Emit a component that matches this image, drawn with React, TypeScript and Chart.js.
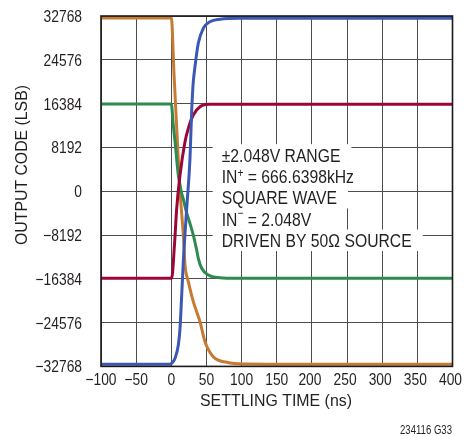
import { useEffect, useRef } from 'react';
import { Chart, registerables } from 'chart.js';

Chart.register(...registerables);

// ---------- data ----------
const xTicks = [-100, -50, 0, 50, 100, 150, 200, 250, 300, 350, 400];
const yTicks = [-32768, -24576, -16384, -8192, 0, 8192, 16384, 24576, 32768];

const blueT = [-100, -2, 3, 5.3, 10, 12.4, 14.8, 17.1, 18.5, 21.9, 26.6, 29, 31, 33.7, 38.4, 45.5, 55, 69.3, 97.7, 150, 400];
const blueV = [-32350, -32350, -31800, -31250, -28760, -25640, -19410, -13180, -10000, -3200, 6160, 15000, 20000, 23290, 27660, 30470, 31700, 32150, 32340, 32350, 32350];

const redT = [-100, 0.5, 4.5, 7.7, 12.4, 19.5, 24.2, 31.3, 40.8, 55, 80, 400];
const redV = [-16280, -16280, -10060, -3200, 3030, 9260, 11760, 14250, 15800, 16250, 16280, 16280];

const greenT = [-100, 0, 2.8, 5.3, 10, 14, 17.1, 21.9, 26, 31.3, 36.1, 38.4, 43.2, 52.6, 69.3, 93, 400];
const greenV = [16300, 16300, 12400, 9300, 3000, 0, -1500, -4100, -5800, -8200, -11000, -12550, -14420, -15670, -16170, -16280, -16300];

const orangeT = [-100, 0, 4, 8, 12.4, 17.1, 19.5, 24.2, 31.3, 40.8, 47.9, 59.7, 78.8, 107, 150, 400];
const orangeV = [32400, 32400, 21500, 11000, 0, -8190, -13800, -16920, -20660, -24400, -28150, -30950, -32000, -32320, -32350, -32350];

const annotationLines = ['±2.048V RANGE', 'IN|+| = 666.6398kHz', 'SQUARE WAVE', 'IN|−| = 2.048V', 'DRIVEN BY 50Ω SOURCE'];
const xTitle = 'SETTLING TIME (ns)';
const yTitle = 'OUTPUT CODE (LSB)';
const footnote = '234116 G33';

// ---------- helpers ----------
const FONT = '"Liberation Sans", Arial, Helvetica, sans-serif';
const TXT = '#231f20';

function toPts(t: number[], v: number[]) {
  return t.map((x, i) => ({ x, y: v[i] }));
}

function fmt(v: number) {
  return v < 0 ? '\u2212' + Math.abs(v) : String(v);
}

function measure(ctx: CanvasRenderingContext2D, text: string, size: number) {
  ctx.font = `${size}px ${FONT}`;
  return ctx.measureText(text).width;
}

// draws text horizontally condensed by sx; y = vertical centre of capitals
function drawText(
  ctx: CanvasRenderingContext2D,
  text: string,
  x: number,
  yc: number,
  size: number,
  sx: number,
  align: 'left' | 'center' | 'right'
) {
  const w = measure(ctx, text, size) * sx;
  const x0 = align === 'left' ? x : align === 'center' ? x - w / 2 : x - w;
  ctx.save();
  ctx.translate(x0, yc + 0.358 * size);
  ctx.scale(sx, 1);
  ctx.textAlign = 'left';
  ctx.textBaseline = 'alphabetic';
  ctx.fillStyle = TXT;
  ctx.fillText(text, 0, 0);
  ctx.restore();
  return w;
}

const framePlugin = {
  id: 'frameAndText',
  afterDatasetsDraw(chart: any) {
    const ctx: CanvasRenderingContext2D = chart.ctx;
    const a = chart.chartArea;
    // annotation box
    const size = 18.5;
    const sx = 190 / measure(ctx, 'DRIVEN BY 50Ω SOURCE', size);
    const left = 221.7;
    const centers = [155, 176.3, 197.6, 219, 240.3];
    // measure widths first
    const widths = annotationLines.map((ln) => {
      const parts = ln.split('|');
      let w = 0;
      parts.forEach((p, i) => {
        w += measure(ctx, p, i === 1 ? 12 : size) * sx;
      });
      return w;
    });
    ctx.save();
    ctx.fillStyle = '#ffffff';
    centers.forEach((c, i) => {
      ctx.fillRect(left - 9, c - 10.8, widths[i] + 20, 21.6);
    });
    ctx.restore();
    annotationLines.forEach((ln, i) => {
      const parts = ln.split('|');
      let x = left;
      parts.forEach((p, j) => {
        if (j === 1) {
          const capTop = centers[i] - 0.358 * size;
          const yc = p === '+' ? capTop + 3.2 : capTop + 0.5;
          x += drawText(ctx, p, x, yc, 12, sx, 'left');
        } else {
          x += drawText(ctx, p, x, centers[i], size, sx, 'left');
        }
      });
    });
    // frame
    ctx.save();
    ctx.strokeStyle = '#1a1a1a';
    ctx.lineWidth = 1.6;
    ctx.strokeRect(a.left, a.top, a.right - a.left, a.bottom - a.top);
    ctx.restore();
  },
  afterDraw(chart: any) {
    const ctx: CanvasRenderingContext2D = chart.ctx;
    const xs = chart.scales.x;
    const ys = chart.scales.y;
    const tsize = 16.5;
    const tsx = 38.4 / measure(ctx, '32768', tsize);
    ys.ticks.forEach((t: any) => {
      drawText(ctx, fmt(t.value), 82, ys.getPixelForValue(t.value), tsize, tsx, 'right');
    });
    xs.ticks.forEach((t: any) => {
      drawText(ctx, fmt(t.value), xs.getPixelForValue(t.value) - (t.value > 150 ? 2 : 0), 379, tsize, tsx, 'center');
    });
    // axis titles
    const titleSize = 17;
    const xsx = 152 / measure(ctx, xTitle, titleSize);
    drawText(ctx, xTitle, 276, 399.5, titleSize, xsx, 'center');
    ctx.save();
    ctx.translate(21, 165);
    ctx.rotate(-Math.PI / 2);
    const ysx = 160 / measure(ctx, yTitle, titleSize);
    drawText(ctx, yTitle, 0, 0, titleSize, ysx, 'center');
    ctx.restore();
    const fsx = 52 / measure(ctx, footnote, 12.5);
    drawText(ctx, footnote, 452, 429.5, 12.5, fsx, 'right');
  },
};

export default function App() {
  const ref = useRef<HTMLCanvasElement | null>(null);
  useEffect(() => {
    if (!ref.current) return;
    const ds = (label: string, t: number[], v: number[], color: string) => ({
      label,
      data: toPts(t, v),
      borderColor: color,
      backgroundColor: color,
      borderWidth: 3,
      pointRadius: 0,
      fill: false,
      cubicInterpolationMode: 'monotone' as const,
    });
    const gridOpts = { color: '#4d4d4d', lineWidth: 1, drawTicks: false };
    const chart = new Chart(ref.current, {
      type: 'line',
      data: {
        datasets: [
          ds('blue', blueT, blueV, '#3b58b5'),
          ds('red', redT, redV, '#9c0636'),
          ds('green', greenT, greenV, '#2f8a50'),
          ds('orange', orangeT, orangeV, '#c67a32'),
        ],
      },
      plugins: [framePlugin],
      options: {
        animation: false,
        responsive: false,
        maintainAspectRatio: false,
        devicePixelRatio: 1,
        layout: { padding: { left: 101, top: 16, right: 14.5, bottom: 69.6 } },
        plugins: { legend: { display: false }, tooltip: { enabled: false } },
        scales: {
          x: {
            type: 'linear',
            min: -100,
            max: 400,
            afterBuildTicks: (s: any) => {
              s.ticks = xTicks.map((value) => ({ value }));
            },
            ticks: { display: false },
            grid: gridOpts,
            border: { display: false },
          },
          y: {
            type: 'linear',
            min: -32768,
            max: 32768,
            afterBuildTicks: (s: any) => {
              s.ticks = yTicks.map((value) => ({ value }));
            },
            ticks: { display: false },
            grid: gridOpts,
            border: { display: false },
          },
        },
      },
    });
    return () => chart.destroy();
  }, []);
  return (
    <div style={{ position: 'fixed', left: 0, top: 0, width: 467, height: 436, background: '#fff' }}>
      <canvas ref={ref} width={467} height={436} style={{ width: 467, height: 436, display: 'block' }} />
    </div>
  );
}
